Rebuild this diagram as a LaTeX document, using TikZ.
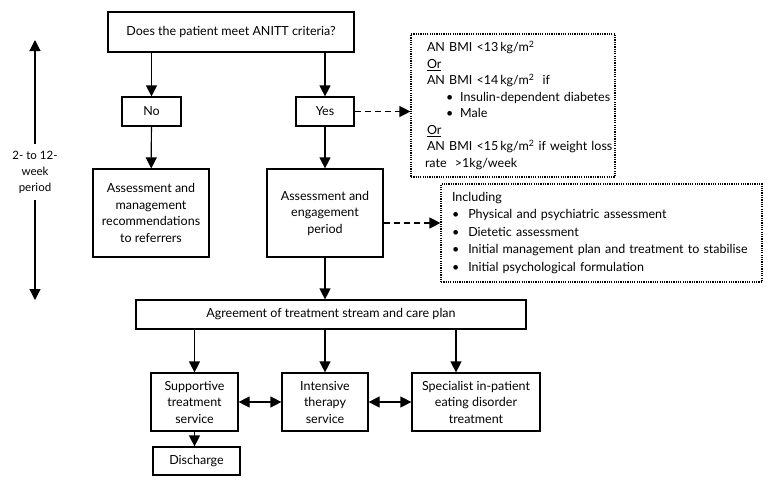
\documentclass[tikz,border=0pt]{standalone}
\usepackage{fontspec}
\setmainfont{Lato}
\usetikzlibrary{arrows.meta}
\begin{document}
\begin{tikzpicture}[x=1pt,y=-1pt,
  font=\fontsize{12.5}{16.5}\selectfont,
  box/.style={draw, line width=1.2pt, align=center, inner sep=0pt},
  infobox/.style={draw, line width=1.2pt, dash pattern=on 1.2pt off 1.1pt, align=left, inner sep=0pt},
  arr/.style={line width=1.2pt, -{Triangle[length=11pt,width=11pt]}},
  darr/.style={line width=1.2pt, {Triangle[length=11pt,width=11pt]}-{Triangle[length=11pt,width=11pt]}},
  dasharr/.style={line width=1.2pt, dash pattern=on 6pt off 4pt, -{Triangle[length=11pt,width=11pt]}}]
\useasboundingbox (0,0) rectangle (770,482);

\node[box, minimum width=246pt, minimum height=40pt] (top) at (231,32) {Does the patient meet ANITT criteria?};
\node[box, minimum width=59pt, minimum height=29pt] (no) at (151.5,111.5) {No};
\node[box, minimum width=58pt, minimum height=29pt] (yes) at (325,111.5) {Yes};
\node[box, minimum width=116pt, minimum height=88pt] (am) at (151,213) {Assessment and\\management\\recommendations\\to referrers};
\node[box, minimum width=116pt, minimum height=88pt] (ae) at (325,213) {Assessment and\\engagement\\period};
\node[box, minimum width=390pt, minimum height=29pt] (agree) at (331,314.5) {Agreement of treatment stream and care plan};
\node[box, minimum width=87pt, minimum height=58pt] (supp) at (194.5,402) {Supportive\\treatment\\service};
\node[box, minimum width=86pt, minimum height=58pt] (int) at (325,402) {Intensive\\therapy\\service};
\node[box, minimum width=128pt, minimum height=58pt] (spec) at (476,402) {Specialist in-patient\\eating disorder\\treatment};
\node[box, minimum width=87pt, minimum height=28pt] (disch) at (196.5,461) {Discharge};

\node[infobox, minimum width=204pt, minimum height=143pt, text width=200pt] (crit) at (513,105.5) {%
\hspace*{14pt}AN BMI <13\,kg/m\textsuperscript{2}\\
\hspace*{14pt}\underline{Or}\\
\hspace*{14pt}AN BMI <14\,kg/m\textsuperscript{2}\ \ if\\
\hspace*{33pt}\textbullet\hspace{7pt}Insulin-dependent diabetes\\
\hspace*{33pt}\textbullet\hspace{7pt}Male\\
\hspace*{14pt}\underline{Or}\\
\hspace*{14pt}AN BMI <15\,kg/m\textsuperscript{2} if weight loss\\
\hspace*{12pt}rate\ \ >1kg/week};

\node[infobox, minimum width=321pt, minimum height=98pt, text width=315pt, font=\fontsize{12.5}{17.5}\selectfont] (incl) at (601.5,233) {%
\hspace*{8pt}Including\\
\hspace*{8pt}\textbullet\hspace{9pt}Physical and psychiatric assessment\\
\hspace*{8pt}\textbullet\hspace{9pt}Dietetic assessment\\
\hspace*{8pt}\textbullet\hspace{9pt}Initial management plan and treatment to stabilise\\
\hspace*{8pt}\textbullet\hspace{9pt}Initial psychological formulation};

\node[align=center, inner xsep=0pt, inner ysep=7pt, font=\fontsize{11.5}{16}\selectfont] (per) at (35,172) {2- to 12-\\week\\period};
\coordinate (ptop) at (35,40);
\coordinate (pbot) at (35,300);
\draw[arr] (per.north) -- (ptop);
\draw[arr] (per.south) -- (pbot);

\coordinate (aeout) at ([yshift=-10pt]ae.east);
\draw[arr] (top.south -| no) -- (no);
\draw[arr] (top.south -| yes) -- (yes);
\draw[arr] (no) -- (am);
\draw[arr] (yes) -- (ae);
\draw[arr] (ae.south) -- (agree.north -| ae.south);
\draw[arr] (agree.south -| supp.north) -- (supp.north);
\draw[arr] (agree.south -| int.north) -- (int.north);
\draw[arr] ([xshift=-20pt]spec.north |- agree.south) -- ([xshift=-20pt]spec.north);
\draw[arr] (supp.south) -- (supp.south |- disch.north);
\draw[darr] (supp.east) -- (int.west);
\draw[darr] (int.east) -- (spec.west);
\draw[dasharr] (yes.east) -- (crit.west |- yes.east);
\draw[dasharr] (aeout) -- (incl.west |- aeout);
\end{tikzpicture}
\end{document}
